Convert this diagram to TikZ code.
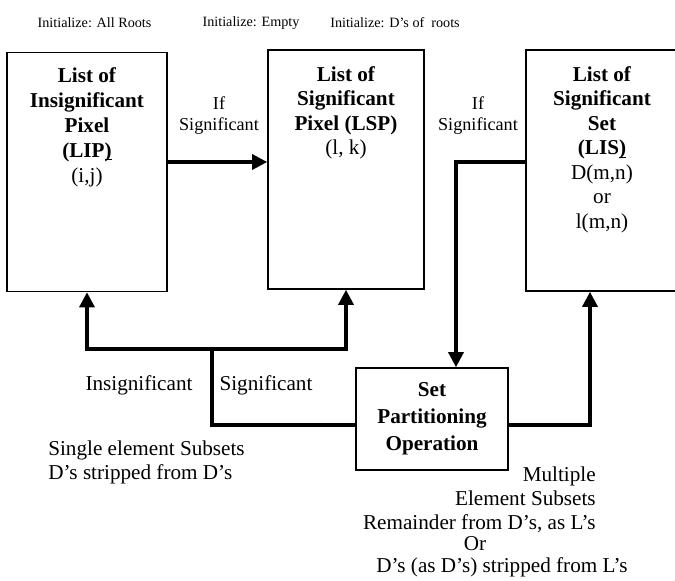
\documentclass[tikz,border=0pt]{standalone}
\usepackage{fontspec}
\setmainfont{Liberation Serif}
\usetikzlibrary{arrows.meta,positioning,calc}
\newcommand{\ulparen}{\underline{\smash{)}\vphantom{L}}}

\begin{document}
\begin{tikzpicture}[
  x=0.6pt,y=-0.6pt,
  every node/.style={font=\fontsize{12.7}{14.4}\selectfont,inner sep=0pt},
  list/.style={draw,line width=1pt,minimum height=143.4pt},
  ttl/.style={anchor=north,align=center,font=\fontsize{12.7}{14.7}\selectfont},
  lbl/.style={align=center,font=\fontsize{10.9}{12.6}\selectfont},
  init/.style={font=\fontsize{8.5}{10}\selectfont},
  arr/.style={-{Triangle[width=9pt,length=9pt]},line width=2pt},
  line/.style={line width=2pt}
]
  \useasboundingbox (0,0) rectangle (675,581);

  \node[init] (i1) at (94.5,23) {Initialize: All Roots};
  \node[init] (i2) at (251,23) {Initialize: Empty};
  \node[init] (i3) at (395,23) {Initialize: D’s of\ \ roots};

  \node[list,minimum width=95.7pt] (lip) at (87,172) {};
  \node[list,minimum width=93.6pt] (lsp) at (346,169.5) {};
  \node[list,minimum width=91.2pt,minimum height=144.6pt] (lis) at (602,170.5) {};
  \node[list,minimum width=91.2pt,minimum height=61.2pt] (spo) at (432,419) {};

  \node[ttl,font=\fontsize{12.7}{15}\selectfont] (lip-t) at (87,67) {\textbf{List of}\\\textbf{Insignificant}\\\textbf{Pixel}\\\textbf{(LIP\ulparen}\\(i,j)};
  \node[ttl] (lsp-t) at (346,66) {\textbf{List of}\\\textbf{Significant}\\\textbf{Pixel (LSP)}\\(l, k)};
  \node[ttl] (lis-t) at (602,66) {\textbf{List of}\\\textbf{Significant}\\\textbf{Set}\\\textbf{(LIS\ulparen}\\D(m,n)\\or\\l(m,n)};
  \node[align=center,font=\fontsize{12.7}{16.3}\selectfont\bfseries] (spo-t) at (spo) {Set\\Partitioning\\Operation};

  \coordinate (sig) at (0,162);
  \coordinate (drop) at (456,0);
  \coordinate (mul) at (590,425);
  \coordinate (fork) at (212,349);

  \draw[arr] (lip.east |- sig) -- (lsp.west |- sig);
  \draw[arr] (lis.west |- sig) -| (drop |- spo.north);
  \draw[arr] (spo.east |- mul) -| (lis.south -| mul);
  \draw[line] (spo.west |- mul) -| (fork);
  \draw[arr] (fork) -| (lip.south);
  \draw[arr] (fork) -| (lsp.south);

  \node[lbl] (if1) at (219,116) {If\\Significant};
  \node[lbl] (if2) at (478,116) {If\\Significant};
  \node (insig) at (139,385) {Insignificant};
  \node (sigl) at (266,385) {Significant};

  \node[anchor=north west,align=left] (single) at (48,440) {Single element Subsets\\D’s stripped from D’s};
  \node[anchor=north east,align=right] (multi) at (596,466) {Multiple\\Element Subsets\\Remainder from D’s, as L’s};
  \node (or) at (475,544) {Or};
  \node (strip) at (502,567) {D’s (as D’s) stripped from L’s};
\end{tikzpicture}
\end{document}
